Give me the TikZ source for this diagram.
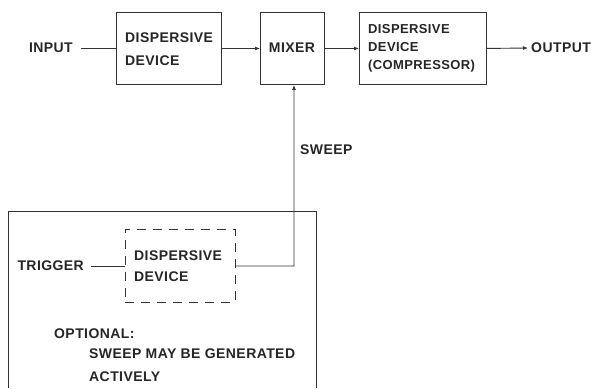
\documentclass[tikz,border=0pt]{standalone}
\usepackage{fontspec}
\setmainfont[LetterSpace=3]{Liberation Sans}
\usetikzlibrary{arrows.meta}
\begin{document}
\begin{tikzpicture}[x=1pt,y=-1pt,
  every node/.style={font=\fontsize{14}{19}\selectfont\bfseries,text=black!85},
  blk/.style={draw=black!80,line width=0.9pt,inner sep=0pt,anchor=north west},
  txt/.style={inner sep=0pt,align=left},
  ln/.style={draw=black!80,line width=0.9pt},
  arr/.style={draw=black!80,line width=0.9pt,-{Latex[length=5pt,width=4pt]}}]
\useasboundingbox (0,0) rectangle (591,388);
% top row boxes
\node[blk,minimum width=105pt,minimum height=72pt] (d1) at (116,12) {};
\node[blk,minimum width=64pt,minimum height=72pt] (mx) at (260,12) {};
\node[blk,minimum width=127pt,minimum height=72pt] (cp) at (359,12) {};
\node[txt,anchor=west] (d1t) at (125,49) {DISPERSIVE\\[4pt]DEVICE};
\node[txt] (mxt) at (292,48) {MIXER};
\node[txt,anchor=west,font=\fontsize{13}{19}\selectfont\bfseries] (cpt) at (368,48) {DISPERSIVE\\[-1pt]DEVICE\\[-1pt](COMPRESSOR)};
\node[txt,anchor=east] (in) at (73,48) {INPUT};
\node[txt,anchor=west] (out) at (531,48) {OUTPUT};
\coordinate (inl) at (81,48);
\draw[ln] (inl) -- (inl -| d1.west);
\draw[arr] (d1.east) -- (mx.west);
\draw[arr] (mx.east) -- (cp.west);
\coordinate (outl) at (528,48);
\draw[arr] (cp.east) -- (outl);
% lower enclosure
\coordinate (bl) at (8,388);
\coordinate (tl) at (8,211);
\coordinate (tr) at (316,211);
\coordinate (br) at (316,388);
\draw[ln] (bl) -- (tl) -- (tr) -- (br);
\node[blk,dashed,dash pattern=on 9pt off 7pt,minimum width=110pt,minimum height=73pt] (dd) at (125,229) {};
\node[txt,anchor=west] (ddt) at (134,266) {DISPERSIVE\\[2pt]DEVICE};
\node[txt,anchor=east] (trig) at (84,266) {TRIGGER};
\coordinate (trl) at (91,266);
\draw[ln] (trl) -- (trl -| dd.west);
\coordinate (sw) at (294,266);
\draw[arr] (dd.east) -- (sw) -- (sw |- mx.south);
\node[txt,anchor=west] (swl) at (300,150) {SWEEP};
\node[txt,anchor=west] (opt) at (54,334) {OPTIONAL:};
\node[txt,anchor=north west] (note) at (89,349) {SWEEP MAY BE GENERATED\\[4pt]ACTIVELY};
\end{tikzpicture}
\end{document}
